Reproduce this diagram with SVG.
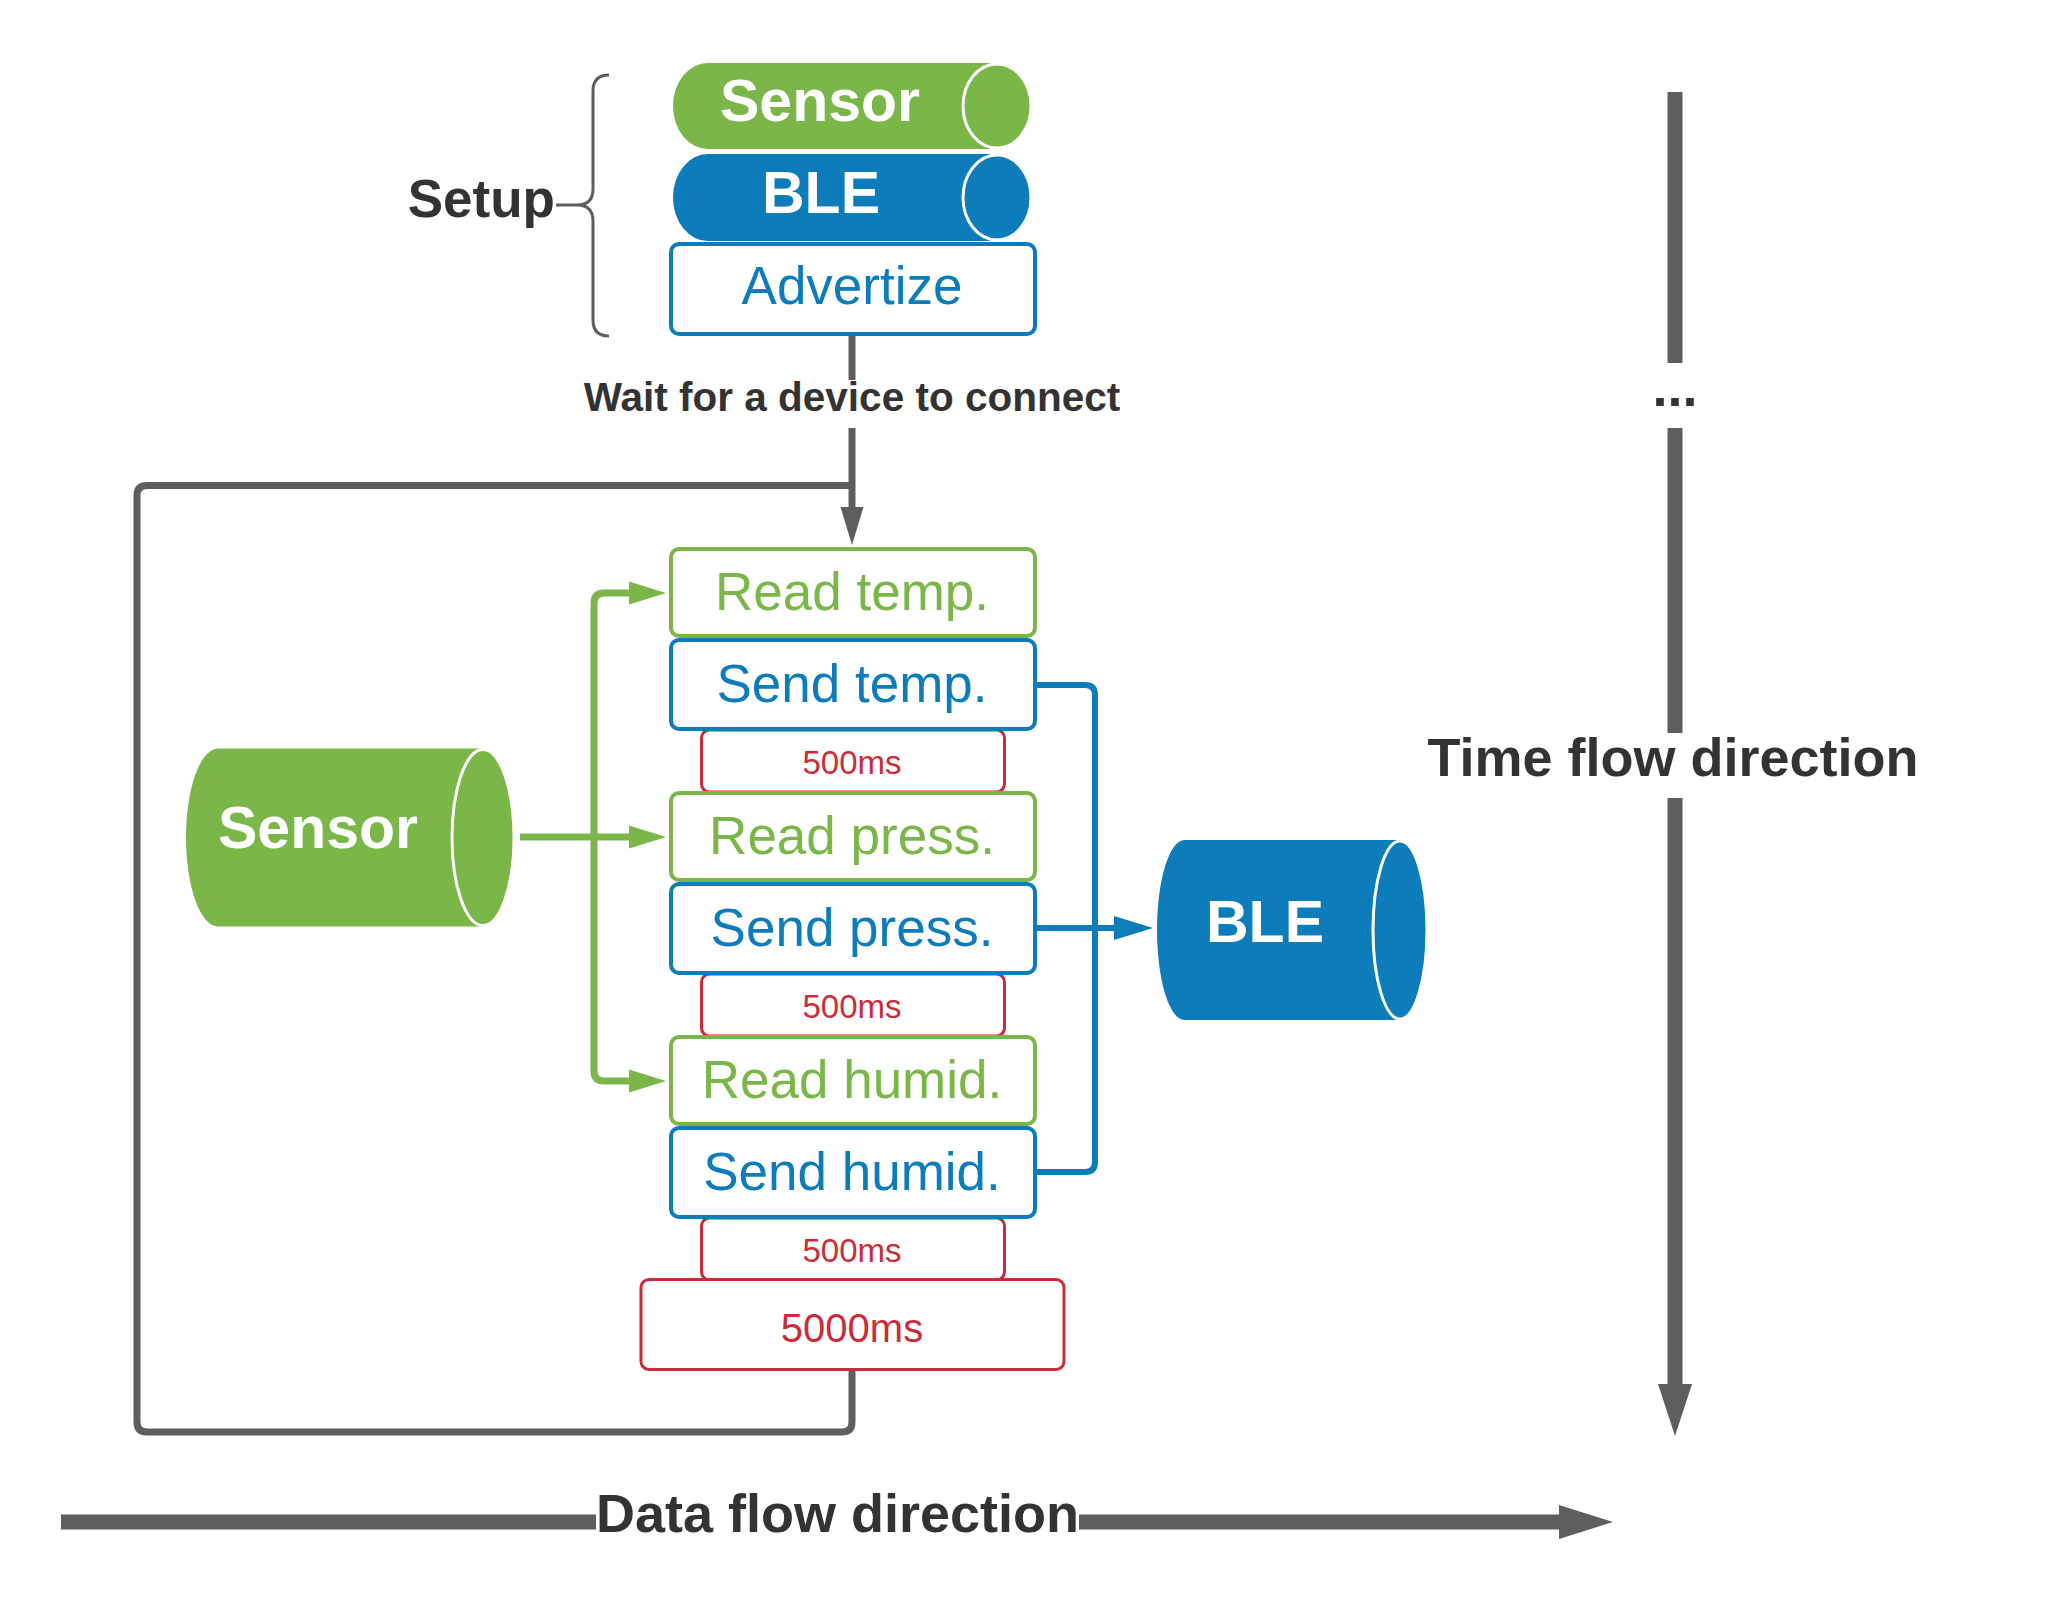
<svg xmlns="http://www.w3.org/2000/svg" width="2048" height="1615" viewBox="0 0 2048 1615">
<style>
text{font-family:"Liberation Sans",Arial,sans-serif;text-anchor:middle}
.lbl{font-weight:bold;fill:#333333}
.cylT{font-weight:bold;fill:#ffffff;font-size:59px}
.gbox{fill:#ffffff;stroke:#7ab648;stroke-width:4}
.bbox{fill:#ffffff;stroke:#0c7cba;stroke-width:4}
.rbox{fill:#ffffff;stroke:#c92d39;stroke-width:3}
.gt{fill:#7ab648;font-size:53px}
.bt{fill:#0c7cba;font-size:53px}
.rt{fill:#c92d39}
.green{fill:#7ab648}
.blue{fill:#0c7cba}
.cap{stroke:#ffffff;stroke-width:3}
.gl{fill:none;stroke:#7ab648;stroke-width:7}
.bl{fill:none;stroke:#0c7cba;stroke-width:6}
.kl{fill:none;stroke:#5e5e5e;stroke-width:7}
.big{fill:none;stroke:#5e5e5e;stroke-width:15}
.head{fill:#5e5e5e}
</style>
<defs>
<marker id="ag" markerUnits="userSpaceOnUse" markerWidth="40" markerHeight="26" refX="0" refY="11.5" orient="auto" overflow="visible"><path d="M0,0 L37,11.5 L0,23 Z" fill="#7ab648"/></marker>
<marker id="ab" markerUnits="userSpaceOnUse" markerWidth="42" markerHeight="26" refX="0" refY="12" orient="auto" overflow="visible"><path d="M0,0 L39,12 L0,24 Z" fill="#0c7cba"/></marker>
<marker id="ak" markerUnits="userSpaceOnUse" markerWidth="40" markerHeight="26" refX="0" refY="11.5" orient="auto" overflow="visible"><path d="M0,0 L38,11.5 L0,23 Z" fill="#5e5e5e"/></marker>
</defs>
<rect width="2048" height="1615" fill="#ffffff"/>

<g id="connectors">
<path class="kl" d="M852,336 V380"/>
<path class="kl" d="M852,428 V507" marker-end="url(#ak)"/>
<path class="kl" d="M852,1371 V1422 Q852,1432 842,1432 H147 Q137,1432 137,1422 V495.5 Q137,485.5 147,485.5 H852"/>
<path class="gl" d="M520,837 H629" marker-end="url(#ag)"/>
<path class="gl" d="M594,837 V603 Q594,593 604,593 H629" marker-end="url(#ag)"/>
<path class="gl" d="M594,837 V1071 Q594,1081 604,1081 H629" marker-end="url(#ag)"/>
<path class="bl" d="M1036,685 H1085 Q1095,685 1095,695 V928"/>
<path class="bl" d="M1036,1172 H1085 Q1095,1172 1095,1162 V928"/>
<path class="bl" d="M1036,928 H1114" marker-end="url(#ab)"/>
</g>

<g id="brace">
<path d="M609,75 Q593,75 593,91 V189 Q593,205 577,205 H556 M577,205 Q593,205 593,221 V320 Q593,336 609,336" fill="none" stroke="#5e5e5e" stroke-width="3"/>
</g>
<g id="setup-label"><text class="lbl" x="555" y="217" font-size="53" style="text-anchor:end">Setup</text></g>

<g id="advertize">
<rect class="bbox" x="671" y="244" width="364" height="90" rx="8"/>
<text class="bt" x="852" y="304">Advertize</text>
</g>
<g id="setup-sensor">
<path class="green" d="M708,63 H997 A35,43 0 0 1 997,149 H708 A35,43 0 0 1 708,63 Z"/>
<ellipse class="green cap" cx="997" cy="106" rx="34" ry="42"/>
<text class="cylT" x="820" y="121">Sensor</text>
</g>
<g id="setup-ble">
<path class="blue" d="M708,154 H997 A35,43.5 0 0 1 997,241 H708 A35,43.5 0 0 1 708,154 Z"/>
<ellipse class="blue cap" cx="997" cy="197.5" rx="34" ry="42.5"/>
<text class="cylT" x="821" y="213">BLE</text>
</g>

<g id="wait-label"><text class="lbl" x="852" y="411" font-size="40.5">Wait for a device to connect</text></g>

<g id="wait1">
<rect class="rbox" x="701.5" y="730" width="303" height="62" rx="8"/>
<text class="rt" x="852" y="774" font-size="33">500ms</text>
</g>
<g id="wait2">
<rect class="rbox" x="701.5" y="974" width="303" height="62" rx="8"/>
<text class="rt" x="852" y="1018" font-size="33">500ms</text>
</g>
<g id="wait3">
<rect class="rbox" x="701.5" y="1218" width="303" height="62" rx="8"/>
<text class="rt" x="852" y="1262" font-size="33">500ms</text>
</g>
<g id="wait4">
<rect class="rbox" x="641" y="1279.5" width="423" height="90" rx="8"/>
<text class="rt" x="852" y="1342" font-size="40">5000ms</text>
</g>

<g id="read-temp">
<rect class="gbox" x="671" y="549" width="364" height="87" rx="8"/>
<text class="gt" x="852" y="610">Read temp.</text>
</g>
<g id="send-temp">
<rect class="bbox" x="671" y="640" width="364" height="89" rx="8"/>
<text class="bt" x="852" y="702">Send temp.</text>
</g>
<g id="read-press">
<rect class="gbox" x="671" y="793" width="364" height="87" rx="8"/>
<text class="gt" x="852" y="854">Read press.</text>
</g>
<g id="send-press">
<rect class="bbox" x="671" y="884" width="364" height="89" rx="8"/>
<text class="bt" x="852" y="946">Send press.</text>
</g>
<g id="read-humid">
<rect class="gbox" x="671" y="1037" width="364" height="87" rx="8"/>
<text class="gt" x="852" y="1098">Read humid.</text>
</g>
<g id="send-humid">
<rect class="bbox" x="671" y="1128" width="364" height="89" rx="8"/>
<text class="bt" x="852" y="1190">Send humid.</text>
</g>

<g id="sensor">
<path class="green" d="M218,748.5 H483 A32,89 0 0 1 483,926.5 H218 A32,89 0 0 1 218,748.5 Z"/>
<ellipse class="green cap" cx="483" cy="837.5" rx="31" ry="88"/>
<text class="cylT" x="318" y="848">Sensor</text>
</g>
<g id="ble">
<path class="blue" d="M1184.5,840 H1400 A27.5,90 0 0 1 1400,1020 H1184.5 A27.5,90 0 0 1 1184.5,840 Z"/>
<ellipse class="blue cap" cx="1400" cy="930" rx="27" ry="89"/>
<text class="cylT" x="1265" y="942">BLE</text>
</g>

<g id="time-axis">
<path class="big" d="M1675,92 V363 M1675,428 V733 M1675,798 V1385"/>
<polygon class="head" points="1658,1384 1692,1384 1675,1436"/>
<text class="lbl" x="1675" y="406" font-size="54">...</text>
<text class="lbl" x="1673" y="776" font-size="54">Time flow direction</text>
</g>
<g id="data-axis">
<path class="big" d="M61,1522 H596 M1079,1522 H1560"/>
<polygon class="head" points="1559,1505 1613,1522 1559,1539"/>
<text class="lbl" x="837.5" y="1532" font-size="54">Data flow direction</text>
</g>
</svg>
